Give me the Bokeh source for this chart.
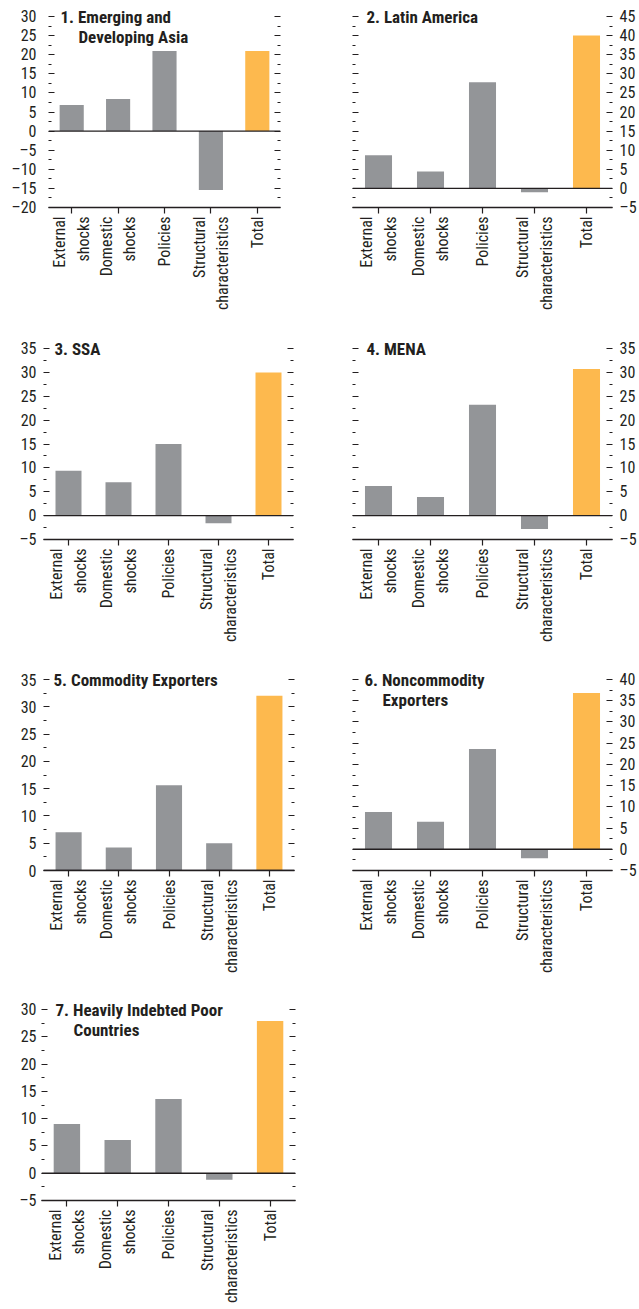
import glob
import math
from bokeh.plotting import figure
from bokeh.models import (FactorRange, Range1d, LinearAxis, FixedTicker,
                          Span, Label, ColumnDataSource, CustomLabelingPolicy)
from bokeh.layouts import column, row
from bokeh.embed import file_html
from bokeh.resources import INLINE

# ---------------- data ----------------
categories = ["External\nshocks", "Domestic\nshocks", "Policies",
              "Structural\ncharacteristics", "Total"]

titles = [
    ["1. Emerging and", "Developing Asia"],
    ["2. Latin America"],
    ["3. SSA"],
    ["4. MENA"],
    ["5. Commodity Exporters"],
    ["6. Noncommodity", "Exporters"],
    ["7. Heavily Indebted Poor", "Countries"],
]

asia = [6.8, 8.4, 21.0, -15.4, 21.0]
latin_america = [8.7, 4.4, 27.8, -1.0, 40.0]
ssa = [9.4, 7.0, 15.0, -1.6, 30.0]
mena = [6.2, 3.9, 23.2, -2.8, 30.7]
commodity_exporters = [7.0, 4.2, 15.6, 5.0, 32.0]
noncommodity_exporters = [8.8, 6.5, 23.6, -2.1, 36.8]
hipc = [9.0, 6.1, 13.6, -1.2, 27.9]

ticks_1 = [-20, -15, -10, -5, 0, 5, 10, 15, 20, 25, 30]
tick_labels_1 = ["\u201320", "\u201315", "\u201310", "\u20135", "0", "5", "10", "15", "20", "25", "30"]
ticks_2 = [-5, 0, 5, 10, 15, 20, 25, 30, 35, 40, 45]
tick_labels_2 = ["\u20135", "0", "5", "10", "15", "20", "25", "30", "35", "40", "45"]
ticks_3 = [-5, 0, 5, 10, 15, 20, 25, 30, 35]
tick_labels_3 = ["\u20135", "0", "5", "10", "15", "20", "25", "30", "35"]
ticks_4 = [-5, 0, 5, 10, 15, 20, 25, 30, 35]
tick_labels_4 = ["\u20135", "0", "5", "10", "15", "20", "25", "30", "35"]
ticks_5 = [0, 5, 10, 15, 20, 25, 30, 35]
tick_labels_5 = ["0", "5", "10", "15", "20", "25", "30", "35"]
ticks_6 = [-5, 0, 5, 10, 15, 20, 25, 30, 35, 40]
tick_labels_6 = ["\u20135", "0", "5", "10", "15", "20", "25", "30", "35", "40"]
ticks_7 = [-5, 0, 5, 10, 15, 20, 25, 30]
tick_labels_7 = ["\u20135", "0", "5", "10", "15", "20", "25", "30"]

# ---------------- style ----------------
GRAY = "#939598"
ORANGE = "#FDB94E"
INK = "#231f20"


def has_font(pat):
    return bool(glob.glob("/usr/share/fonts/**/" + pat, recursive=True)
                or glob.glob("/usr/local/share/fonts/**/" + pat, recursive=True))


if has_font("LiberationSansNarrow*"):
    FONT, TICK_SIZE, TITLE_SIZE = "Liberation Sans Narrow", "17px", "17px"
elif has_font("RobotoCondensed-*"):
    FONT, TICK_SIZE, TITLE_SIZE = "Roboto Condensed", "16px", "17px"
elif has_font("DejaVuSansCondensed*"):
    FONT, TICK_SIZE, TITLE_SIZE = "DejaVu Sans Condensed", "14px", "14px"
else:
    FONT, TICK_SIZE, TITLE_SIZE = "Liberation Sans", "14.5px", "15px"

FRAME_H = 191      # pixel height between lowest and highest tick
TITLE_PAD = 14     # extra pixels above the top tick for the panel title

panels = [
    dict(vals=asia, ticks=ticks_1, labels=tick_labels_1, side="left",
         w=320, h=331, mbl=48, mbr=17, mbt=16, standoff=12, tx=12),
    dict(vals=latin_america, ticks=ticks_2, labels=tick_labels_2, side="right",
         w=319, h=331, mbl=32, mbr=24, mbt=16, standoff=7, tx=14),
    dict(vals=ssa, ticks=ticks_3, labels=tick_labels_3, side="left",
         w=320, h=331, mbl=43, mbr=17, mbt=17, standoff=7, tx=11),
    dict(vals=mena, ticks=ticks_4, labels=tick_labels_4, side="right",
         w=319, h=331, mbl=32, mbr=24, mbt=17, standoff=7, tx=14),
    dict(vals=commodity_exporters, ticks=ticks_5, labels=tick_labels_5, side="left",
         w=320, h=331, mbl=43, mbr=17, mbt=17, standoff=7, tx=10),
    dict(vals=noncommodity_exporters, ticks=ticks_6, labels=tick_labels_6, side="right",
         w=319, h=331, mbl=32, mbr=24, mbt=17, standoff=7, tx=12),
    dict(vals=hipc, ticks=ticks_7, labels=tick_labels_7, side="left",
         w=320, h=316, mbl=41, mbr=17, mbt=16, standoff=5, tx=14),
]

NO_LABELS = CustomLabelingPolicy(code="return new Set()")


def style_y(ax, show_labels, standoff):
    ax.axis_line_color = None
    ax.major_tick_in = 6
    ax.major_tick_out = 0
    ax.minor_tick_in = 3
    ax.minor_tick_out = 0
    ax.major_tick_line_color = INK
    ax.minor_tick_line_color = INK
    ax.major_tick_line_width = 1.2
    ax.minor_tick_line_width = 1.2
    ax.major_label_standoff = standoff
    ax.major_label_text_font = FONT
    ax.major_label_text_color = INK
    ax.major_label_text_font_size = TICK_SIZE
    if not show_labels:
        ax.major_label_policy = NO_LABELS


figs = []
for spec, title in zip(panels, titles):
    ticks = spec["ticks"]
    ymin, ymax = ticks[0], ticks[-1]
    pad = (ymax - ymin) * TITLE_PAD / FRAME_H
    minor = [(a + b) / 2 for a, b in zip(ticks[:-1], ticks[1:])]
    mbb = spec["h"] - (spec["mbt"] - TITLE_PAD) - FRAME_H - TITLE_PAD
    p = figure(x_range=FactorRange(factors=categories, range_padding=0),
               y_range=Range1d(ymin, ymax + pad),
               width=spec["w"], height=spec["h"],
               min_border_left=spec["mbl"], min_border_right=spec["mbr"],
               min_border_top=spec["mbt"] - TITLE_PAD, min_border_bottom=mbb,
               output_backend="svg", toolbar_location=None,
               y_axis_location=None)
    p.outline_line_color = None
    p.xgrid.visible = False
    p.ygrid.visible = False
    p.background_fill_color = "white"
    p.border_fill_color = "white"

    colors = [ORANGE if c == "Total" else GRAY for c in categories]
    src = ColumnDataSource(dict(cat=categories, val=spec["vals"], color=colors))
    p.vbar(x="cat", top="val", bottom=0, width=0.52, source=src,
           fill_color="color", line_color=None)

    p.add_layout(Span(location=0, dimension="width", line_color=INK, line_width=1.4))

    overrides = {t: l for t, l in zip(ticks, spec["labels"])}
    for loc in ("left", "right"):
        ax = LinearAxis(ticker=FixedTicker(ticks=ticks, minor_ticks=minor))
        ax.major_label_overrides = overrides
        style_y(ax, loc == spec["side"], spec["standoff"])
        p.add_layout(ax, loc)

    xa = p.xaxis[0]
    xa.axis_line_color = INK
    xa.axis_line_width = 1.4
    xa.major_tick_in = 0
    xa.major_tick_out = 6
    xa.major_tick_line_color = INK
    xa.major_tick_line_width = 1.2
    xa.major_label_orientation = math.pi / 2
    xa.major_label_standoff = 3
    xa.major_label_text_font = FONT
    xa.major_label_text_font_size = TICK_SIZE
    xa.major_label_text_color = INK
    xa.major_label_text_line_height = 1.25

    for i, line in enumerate(title):
        p.add_layout(Label(x=0, y=ymax, x_units="data", y_units="data",
                           x_offset=spec["tx"] + (18 if i else 0), y_offset=-20 * i,
                           text=line, text_baseline="middle", text_align="left",
                           text_font=FONT, text_font_size=TITLE_SIZE,
                           text_font_style="bold", text_color=INK))
    figs.append(p)

layout = column(
    row(figs[0], figs[1]),
    row(figs[2], figs[3]),
    row(figs[4], figs[5]),
    row(figs[6]),
)

open("out.html", "w").write(file_html(layout, INLINE))
